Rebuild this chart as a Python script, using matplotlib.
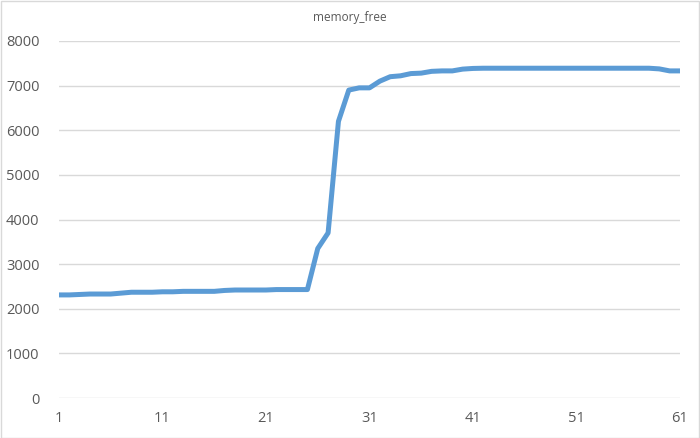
import matplotlib
matplotlib.use("Agg")
import matplotlib.pyplot as plt
from matplotlib.patches import Rectangle

plt.rcParams['font.family'] = ['Open Sans', 'DejaVu Sans']

# sample index 1..61
x = list(range(1, 62))
memory_free = [
    2310, 2310, 2320, 2330, 2330, 2330, 2350, 2370, 2370, 2370,
    2380, 2380, 2390, 2390, 2390, 2390, 2410, 2420, 2420, 2420,
    2420, 2430, 2430, 2430, 2430, 3350, 3700, 6200, 6900, 6950,
    6950, 7100, 7200, 7220, 7270, 7280, 7320, 7330, 7330, 7370,
    7385, 7390, 7390, 7390, 7390, 7390, 7390, 7390, 7390, 7390,
    7390, 7390, 7390, 7390, 7390, 7390, 7390, 7390, 7375, 7330,
    7330,
]
xticks = [1, 11, 21, 31, 41, 51, 61]
yticks = list(range(0, 8001, 1000))

grey = '#595959'
fig = plt.figure(figsize=(7, 4.38), dpi=100)
ax = fig.add_axes([59 / 700, 1 - 398 / 438, 621 / 700, 357 / 438])

ax.plot(x, memory_free, color='#5B9BD5', linewidth=3.6, solid_joinstyle='round', solid_capstyle='butt')

ax.set_xlim(1, 61)
ax.set_ylim(0, 8000)
ax.set_xticks(xticks)
ax.set_yticks(yticks)
ax.grid(axis='y', color='#D9D9D9', linewidth=1)
ax.set_axisbelow(True)
for s in ax.spines.values():
    s.set_visible(False)
ax.tick_params(length=0, labelsize=10.5, colors=grey)
ax.tick_params(axis='y', pad=14)
ax.tick_params(axis='x', pad=9)

fig.text(0.5, 1 - 17 / 438, 'memory_free', ha='center', va='center', fontsize=8.5, color=grey)

# light chart border like the spreadsheet chart frame
fig.patches.append(Rectangle((0.001, 0.001), 0.997, 0.997, transform=fig.transFigure,
                             fill=False, edgecolor='#D9D9D9', linewidth=1))

fig.savefig('out.png', dpi=100)
